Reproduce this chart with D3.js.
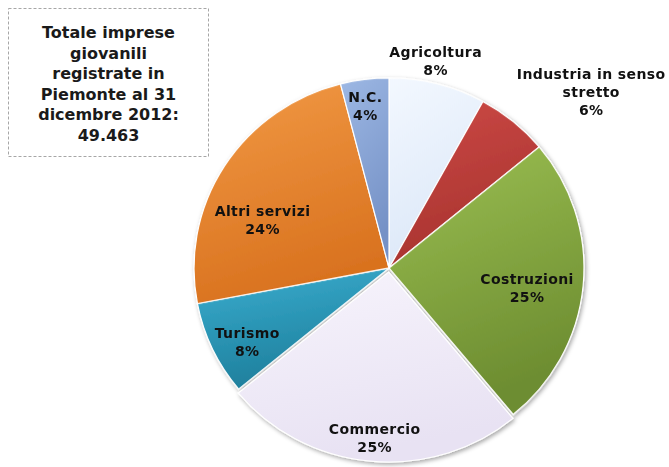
<!DOCTYPE html>
<html>
<head>
<meta charset="utf-8">
<script src="https://cdn.jsdelivr.net/npm/d3@7"></script>
<style>
  body { margin: 0; background: #fff; }
  svg { display: block; }
</style>
</head>
<body>
<svg id="chart" width="669" height="467"></svg>
<script>
// data
const categories = ["Agricoltura", "Industria in senso stretto", "Costruzioni", "Commercio", "Turismo", "Altri servizi", "N.C."];
const percents = [8, 6, 25, 25, 8, 24, 4];
const labelLines = [["Agricoltura"], ["Industria in senso", "stretto"], ["Costruzioni"], ["Commercio"], ["Turismo"], ["Altri servizi"], ["N.C."]];
const titleLines = ["Totale imprese", "giovanili", "registrate in", "Piemonte al 31", "dicembre 2012:", "49.463"];

// look
const colours = {
  "Agricoltura": ["#f3f8ff", "#dce8f8"],
  "Industria in senso stretto": ["#cd4a46", "#a8332f"],
  "Costruzioni": ["#9cc052", "#6d8d31"],
  "Commercio": ["#f7f4fc", "#e8e2f3"],
  "Turismo": ["#3aaed0", "#1e7f9c"],
  "Altri servizi": ["#f29a45", "#d9721f"],
  "N.C.": ["#9db8e4", "#7591c6"]
};
// label radius (fraction of radius) and angle nudge (degrees)
const labelPlace = {
  "Agricoltura": [1.114, -2],
  "Industria in senso stretto": [1.389, 8.7],
  "Costruzioni": [0.716, 3.2],
  "Commercio": [0.897, -0.7],
  "Turismo": [0.826, -3.1],
  "Altri servizi": [0.696, -11.1],
  "N.C.": [0.861, -0.9]
};
const exploded = {"Commercio": 4};

let svg = d3.select("#chart");
let cx = 389, cy = 268, rx = 195, ry = 190;

let data = categories.map((c, i) => ({name: c, value: percents[i], lines: labelLines[i]}));

let defs = svg.append("defs");
data.forEach((d, i) => {
  let g = defs.append("linearGradient")
    .attr("id", "grad" + i)
    .attr("x1", 0).attr("y1", 0).attr("x2", 0.3).attr("y2", 1);
  g.append("stop").attr("offset", "0%").attr("stop-color", colours[d.name][0]);
  g.append("stop").attr("offset", "100%").attr("stop-color", colours[d.name][1]);
});
let shadow = defs.append("filter").attr("id", "shadow")
  .attr("x", "-10%").attr("y", "-10%").attr("width", "120%").attr("height", "120%");
shadow.append("feDropShadow")
  .attr("dx", 1.5).attr("dy", 2).attr("stdDeviation", 2)
  .attr("flood-color", "#000").attr("flood-opacity", 0.35);

// title box
let box = svg.append("g").attr("class", "title");
box.append("rect")
  .attr("x", 8.5).attr("y", 8.5).attr("width", 200).attr("height", 148)
  .attr("fill", "#fff")
  .attr("stroke", "#a6a6a6")
  .attr("stroke-dasharray", "3,2");
box.selectAll("text")
  .data(titleLines)
  .join("text")
    .attr("x", 108.5)
    .attr("y", (d, i) => 38 + i * 20.5)
    .attr("text-anchor", "middle")
    .style("font-family", "'DejaVu Sans', sans-serif")
    .style("font-weight", "bold")
    .style("font-size", "16px")
    .attr("fill", "#1a1a1a")
    .text(d => d);

// pie
let pie = d3.pie().sort(null).value(d => d.value);
let arcs = pie(data);
let arc = d3.arc().innerRadius(0).outerRadius(rx);

let mainG = svg.append("g")
  .attr("class", "main")
  .attr("transform", `translate(${cx},${cy}) scale(1,${ry / rx})`)
  .attr("filter", "url(#shadow)");

mainG.selectAll("path")
  .data(arcs)
  .join("path")
    .attr("transform", d => {
      let e = exploded[d.data.name] || 0;
      let a = (d.startAngle + d.endAngle) / 2;
      return `translate(${Math.sin(a) * e},${-Math.cos(a) * e * rx / ry})`;
    })
    .attr("fill", (d, i) => `url(#grad${i})`)
    .attr("stroke", "#fff")
    .attr("stroke-width", 1.2)
    .attr("vector-effect", "non-scaling-stroke")
    .attr("d", arc)
  .append("title")
    .text(d => d.data.name + ": " + d.data.value + "%");

// labels
let labels = svg.append("g").attr("class", "labels");
arcs.forEach(d => {
  let place = labelPlace[d.data.name];
  let a = (d.startAngle + d.endAngle) / 2 + place[1] * Math.PI / 180;
  let x = cx + rx * place[0] * Math.sin(a);
  let y = cy - ry * place[0] * Math.cos(a);
  let lines = d.data.lines.concat([d.data.value + "%"]);
  let t = labels.append("text")
    .attr("text-anchor", "middle")
    .style("font-family", "'DejaVu Sans', sans-serif")
    .style("font-weight", "bold")
    .style("font-size", "14px")
    .style("letter-spacing", "0.4px")
    .attr("fill", "#111");
  lines.forEach((l, j) => {
    t.append("tspan")
      .attr("x", x)
      .attr("y", y - 9 * (lines.length - 1) + 5 + j * 18)
      .text(l);
  });
});
</script>
</body>
</html>
